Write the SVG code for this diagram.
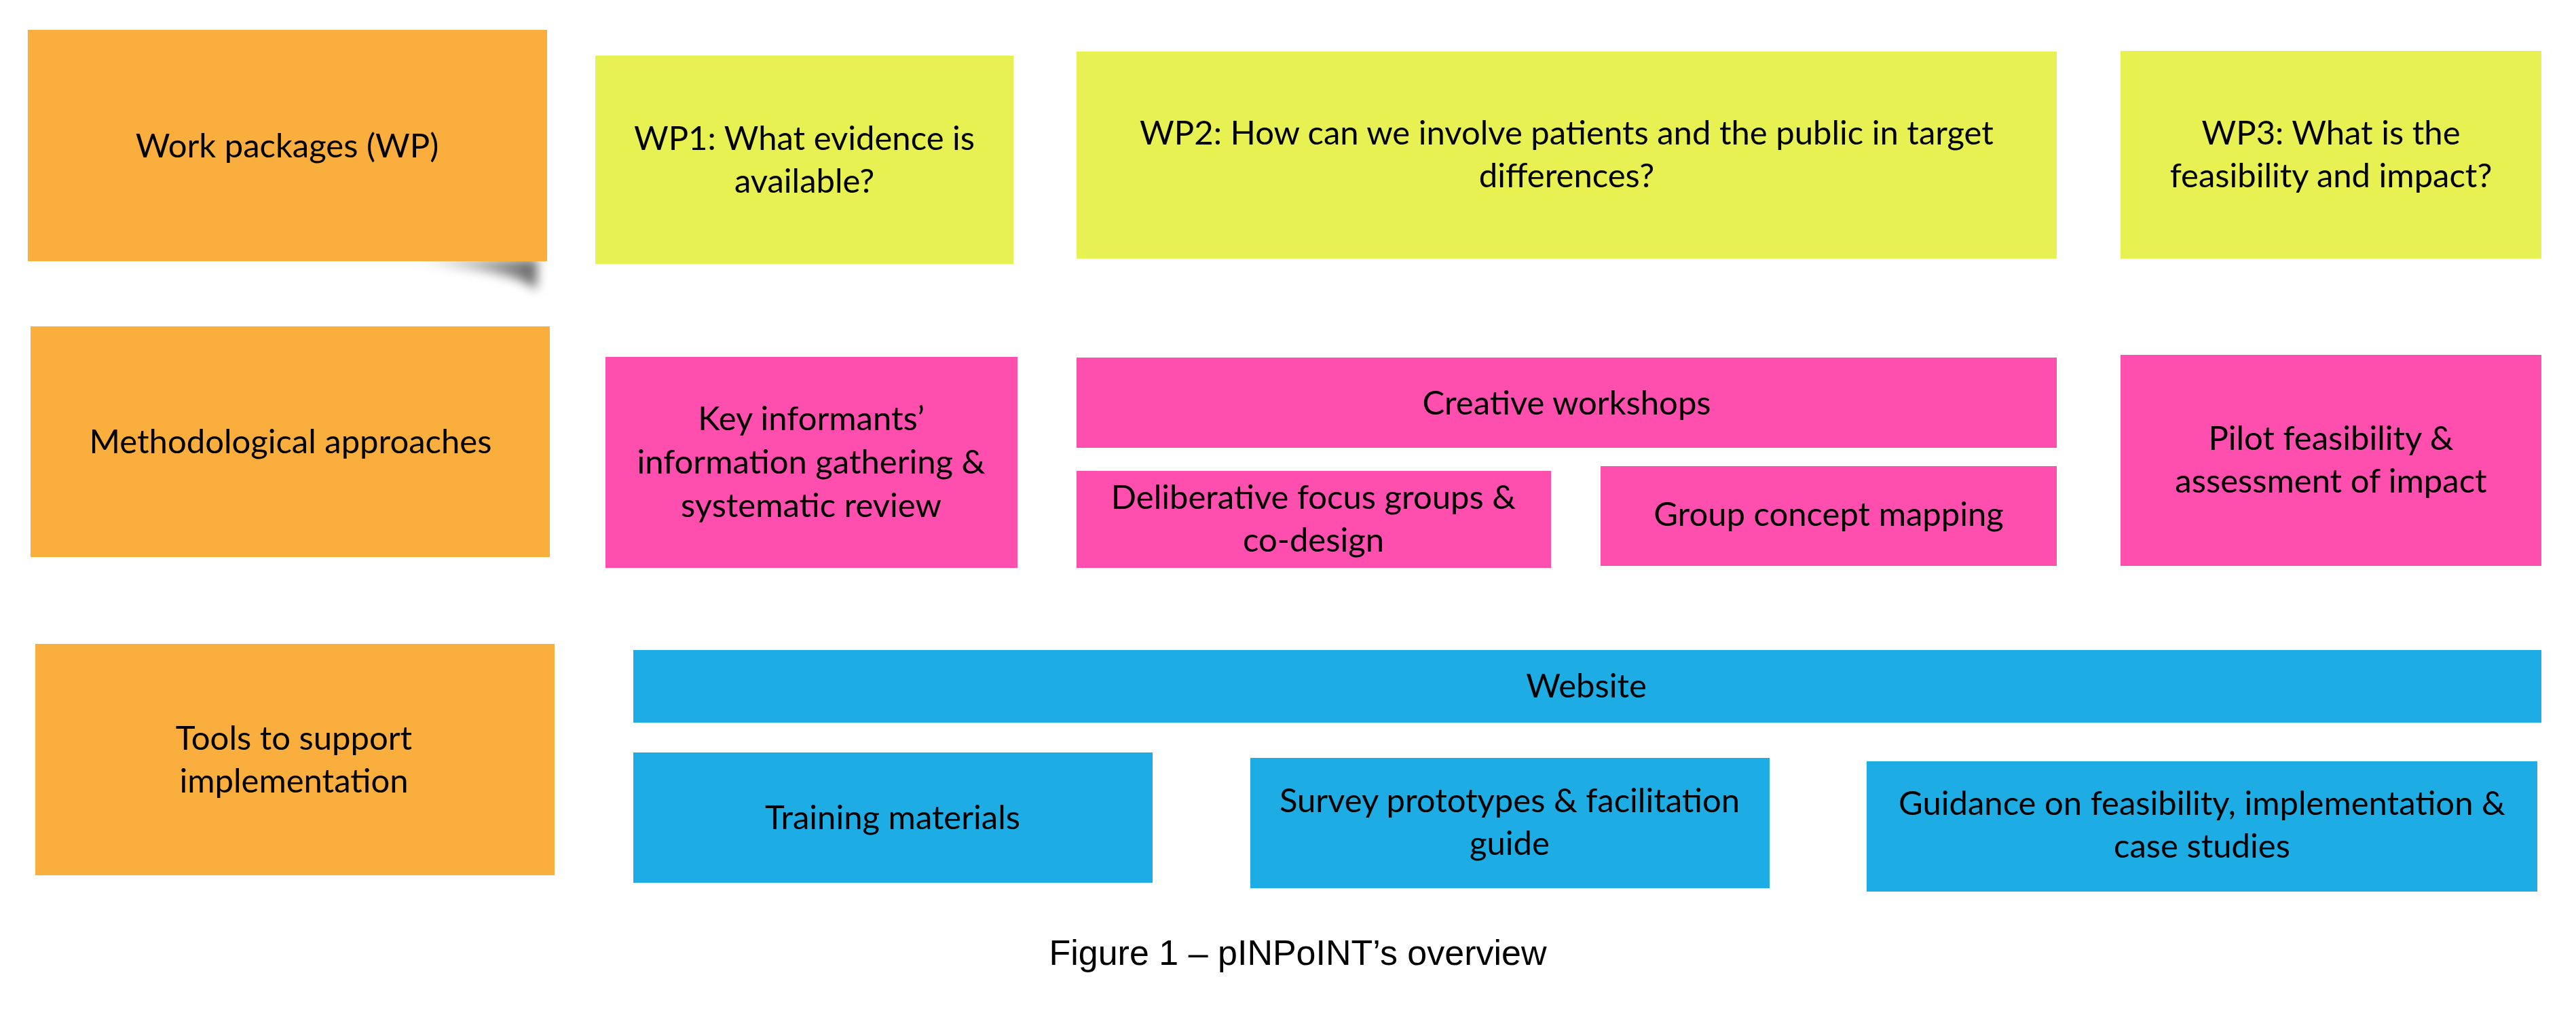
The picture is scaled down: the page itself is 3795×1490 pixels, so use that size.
<svg xmlns="http://www.w3.org/2000/svg" width="3795" height="1490" viewBox="0 0 3795 1490">
<style>
.orange{fill:#FAAE3D}
.yellow{fill:#E7F151}
.pink{fill:#FE4FAF}
.blue{fill:#1EACE4}
.t{font-family:Lato,"Open Sans","Liberation Sans",sans-serif;font-size:49px;fill:#000;text-anchor:middle}
.cap{font-family:"Liberation Sans",Arial,sans-serif;font-size:52px;fill:#000;text-anchor:middle}
</style>
<defs>
<filter id="blur" x="-50%" y="-50%" width="200%" height="200%"><feGaussianBlur stdDeviation="8"/></filter>
<linearGradient id="sh" x1="0" y1="0" x2="1" y2="0">
<stop offset="0" stop-color="#000" stop-opacity="0"/>
<stop offset="1" stop-color="#000" stop-opacity="0.6"/>
</linearGradient>
</defs>
<rect width="3795" height="1490" fill="#fff"/>
<g id="shadow">
<path d="M610,382 L792,382 L790,428 Q770,400 610,388 Z" fill="url(#sh)" filter="url(#blur)"/>
</g>
<g id="wp-label"><rect class="orange" x="41" y="44" width="765" height="341"/><text class="t" x="423" y="232">Work packages (WP)</text></g>
<g id="wp1"><rect class="yellow" x="877" y="82" width="616" height="307"/><text class="t" x="1185" y="221">WP1: What evidence is</text><text class="t" x="1185" y="284">available?</text></g>
<g id="wp2"><rect class="yellow" x="1586" y="76" width="1444" height="305"/><text class="t" x="2308" y="213">WP2: How can we involve patients and the public in target</text><text class="t" x="2308" y="276">differences?</text></g>
<g id="wp3"><rect class="yellow" x="3124" y="75" width="620" height="306"/><text class="t" x="3434" y="213">WP3: What is the</text><text class="t" x="3434" y="276">feasibility and impact?</text></g>
<g id="methods-label"><rect class="orange" x="45" y="481" width="765" height="340"/><text class="t" x="428" y="668">Methodological approaches</text></g>
<g id="key-informants"><rect class="pink" x="892" y="526" width="607" height="311"/><text class="t" x="1195" y="634">Key informants’</text><text class="t" x="1195" y="698">information gathering &amp;</text><text class="t" x="1195" y="762">systematic review</text></g>
<g id="creative-workshops"><rect class="pink" x="1586" y="527" width="1444" height="133"/><text class="t" x="2308" y="611">Creative workshops</text></g>
<g id="deliberative"><rect class="pink" x="1586" y="694" width="699" height="143"/><text class="t" x="1935" y="750">Deliberative focus groups &amp;</text><text class="t" x="1935" y="813">co-design</text></g>
<g id="group-concept"><rect class="pink" x="2358" y="687" width="672" height="147"/><text class="t" x="2694" y="775">Group concept mapping</text></g>
<g id="pilot"><rect class="pink" x="3124" y="523" width="620" height="311"/><text class="t" x="3434" y="663">Pilot feasibility &amp;</text><text class="t" x="3434" y="726">assessment of impact</text></g>
<g id="tools-label"><rect class="orange" x="52" y="949" width="765" height="341"/><text class="t" x="433" y="1105">Tools to support</text><text class="t" x="433" y="1168">implementation</text></g>
<g id="website"><rect class="blue" x="933" y="958" width="2811" height="107"/><text class="t" x="2337" y="1028">Website</text></g>
<g id="training"><rect class="blue" x="933" y="1109" width="765" height="192"/><text class="t" x="1315" y="1222">Training materials</text></g>
<g id="survey"><rect class="blue" x="1842" y="1117" width="765" height="192"/><text class="t" x="2224" y="1197">Survey prototypes &amp; facilitation</text><text class="t" x="2224" y="1260">guide</text></g>
<g id="guidance"><rect class="blue" x="2750" y="1122" width="988" height="192"/><text class="t" x="3244" y="1201">Guidance on feasibility, implementation &amp;</text><text class="t" x="3244" y="1264">case studies</text></g>
<g id="connectors"></g>
<text class="cap" x="1912" y="1422">Figure 1 – pINPoINT’s overview</text>
</svg>
